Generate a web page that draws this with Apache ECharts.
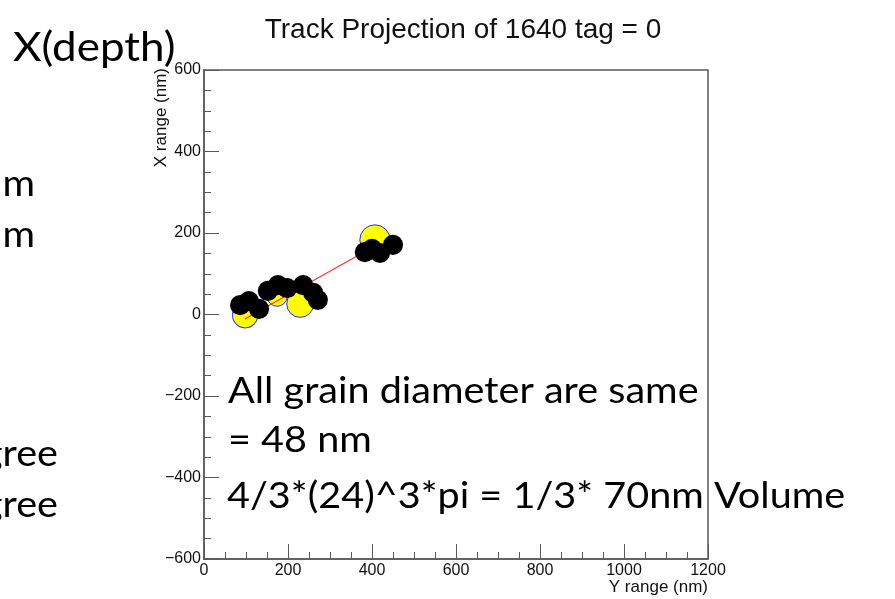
<!DOCTYPE html>
<html>
<head>
<meta charset="utf-8">
<script src="https://cdn.jsdelivr.net/npm/echarts@6/dist/echarts.min.js"></script>
<style>
  html, body { margin: 0; padding: 0; background: #ffffff; }
  #chart { width: 895px; height: 599px; }
</style>
</head>
<body>
<div id="chart"></div>
<script>
// Axis ranges (nm)
const yRangeMin = 0, yRangeMax = 1200, yRangeStep = 200;   // horizontal axis: "Y range"
const xRangeMin = -600, xRangeMax = 600, xRangeStep = 200; // vertical axis: "X range"

// Fitted track through the grain clusters: [Y, X] in nm
const trackLine = [[97, -11], [407, 168]];

// Cluster outlines: [Y, X, diameter nm]
const clusterGrains = [[98, -2, 60], [174, 45, 48], [229, 26, 64], [407, 183, 72]];

// Individual grains: [Y, X] in nm
const grainPoints = [
  [86, 23], [107, 33], [131, 14],
  [152, 58], [176, 72], [198, 65],
  [236, 72], [260, 53], [271, 36],
  [383, 153], [400, 161], [419, 151], [450, 171]
];
const grainDiameter = 48; // nm

const titleText = 'Track Projection of 1640 tag = 0';
const xAxisName = 'Y range (nm)';
const yAxisName = 'X range (nm)';

const grid = { left: 204, top: 70, width: 504, height: 489 };
const pxPerNm = grid.width / (yRangeMax - yRangeMin);

const axisColor = '#5a5a5a';
const labelFont = 'Liberation Sans, Arial, Helvetica, sans-serif';
const slideFont = 'Lato, "Noto Sans", sans-serif';
const slideStretch = 1.1; // slide text is set in a slightly wider face

const chart = echarts.init(document.getElementById('chart'), null, { renderer: 'canvas' });

const commonAxis = {
  axisLine: { show: true, onZero: false, lineStyle: { color: axisColor, width: 1.5 } },
  axisTick: { show: true, inside: true, length: 15, lineStyle: { color: axisColor, width: 1 } },
  minorTick: { show: true, splitNumber: 4, length: 7, lineStyle: { color: axisColor, width: 1 } },
  splitLine: { show: false },
  minorSplitLine: { show: false }
};

function slideText(text, x, y, size, align) {
  return {
    type: 'text', x: x, y: y, scaleX: slideStretch, scaleY: 1, z: 100,
    style: { text: text, font: size + 'px ' + slideFont, fill: '#000', align: align, verticalAlign: 'middle' }
  };
}

chart.setOption({
  animation: false,
  backgroundColor: '#ffffff',
  title: {
    text: titleText,
    left: 458, top: 11, textAlign: 'center',
    textStyle: { fontFamily: labelFont, fontWeight: 'normal', fontSize: 28, color: '#111' }
  },
  grid: Object.assign({ show: true, borderColor: axisColor, borderWidth: 1.5, backgroundColor: 'transparent' }, grid),
  xAxis: Object.assign({
    type: 'value', min: yRangeMin, max: yRangeMax, interval: yRangeStep,
    axisLabel: { margin: 4, fontFamily: labelFont, fontSize: 16, color: '#111', formatter: v => String(v) }
  }, commonAxis),
  yAxis: Object.assign({
    type: 'value', min: xRangeMin, max: xRangeMax, interval: xRangeStep,
    axisLabel: {
      margin: 3, fontFamily: labelFont, fontSize: 16, color: '#111',
      formatter: v => String(v).replace('-', '\u2212')
    }
  }, commonAxis),
  series: [
    {
      type: 'scatter', z: 2, data: clusterGrains,
      symbol: 'circle',
      symbolSize: v => v[2] * pxPerNm,
      itemStyle: { color: '#ffff00', borderColor: '#2a2aff', borderWidth: 1, opacity: 1 }
    },
    {
      type: 'line', z: 3, data: trackLine, showSymbol: false, symbol: 'none',
      lineStyle: { color: '#ff3333', width: 1.2 }
    },
    {
      type: 'scatter', z: 4, data: grainPoints,
      symbol: 'circle', symbolSize: grainDiameter * pxPerNm,
      itemStyle: { color: '#000000', opacity: 1 }
    }
  ],
  graphic: [
    { type: 'text', x: 161, y: 68, rotation: Math.PI / 2,
      style: { text: yAxisName, font: '17px ' + labelFont, fill: '#111', align: 'right', verticalAlign: 'middle' } },
    { type: 'text', x: 708, y: 587,
      style: { text: xAxisName, font: '17px ' + labelFont, fill: '#111', align: 'right', verticalAlign: 'middle' } },

    // Slide annotations
    slideText('X(depth)', 13, 48, 40, 'left'),
    slideText('m', 35, 184, 36, 'right'),
    slideText('m', 35, 235, 36, 'right'),
    slideText('gree', 58, 454, 36, 'right'),
    slideText('gree', 58, 505, 36, 'right'),
    slideText('All grain diameter are same', 228, 391, 36, 'left'),
    slideText('= 48 nm', 228, 440, 36, 'left'),
    slideText('4/3*(24)^3*pi = 1/3* 70nm Volume', 227, 496, 36, 'left')
  ]
});
</script>
</body>
</html>
